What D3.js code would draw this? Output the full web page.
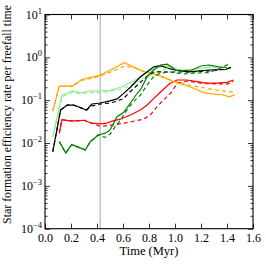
<!DOCTYPE html>
<html><head><meta charset="utf-8">
<script src="https://cdn.jsdelivr.net/npm/d3@7"></script>
<style>body{margin:0;background:#fff}svg{display:block}</style>
</head><body>
<script>
// ---- data ----
const xTicks = [0, 0.2, 0.4, 0.6, 0.8, 1.0, 1.2, 1.4, 1.6];
const xTickLabels = ["0.0","0.2","0.4","0.6","0.8","1.0","1.2","1.4","1.6"];
const yTicks = [1e-4, 1e-3, 1e-2, 1e-1, 1e0, 1e1];
const yTickExps = ["\u22124","\u22123","\u22122","\u22121","0","1"];
const markerTime = 0.425;

const orangeT      = [0.06,0.11,0.21,0.28,0.35,0.42,0.50,0.61,0.68,0.76,0.84,0.91,0.99,1.07,1.14,1.22,1.30,1.37,1.42,1.46];
const orangeSolid  = [0.056,0.214,0.214,0.30,0.34,0.38,0.50,0.75,0.60,0.46,0.41,0.35,0.27,0.226,0.192,0.15,0.139,0.132,0.12,0.135];
const orangeDashed = [0.056,0.214,0.21,0.29,0.32,0.36,0.45,0.62,0.58,0.47,0.40,0.34,0.28,0.24,0.215,0.195,0.175,0.165,0.158,0.152];

const lgT       = [0.06,0.13,0.21,0.28,0.35,0.42,0.50,0.58,0.66,0.73,0.79,0.86,0.92,0.97,1.02,1.09,1.20,1.28,1.33];
const lgSolid   = [0.014,0.13,0.165,0.15,0.165,0.165,0.17,0.20,0.26,0.34,0.45,0.57,0.63,0.62,0.52,0.50,0.55,0.60,0.58];
const lgDT      = [0.06,0.13,0.21,0.28,0.35,0.42,0.50,0.58,0.66,0.73,0.79,0.86,0.92,0.99,1.07,1.15,1.22,1.30,1.37];
const lgDashed  = [0.014,0.12,0.15,0.14,0.15,0.15,0.16,0.18,0.22,0.28,0.36,0.45,0.52,0.53,0.48,0.46,0.48,0.52,0.58];

const blackT      = [0.06,0.12,0.17,0.22,0.32,0.36,0.425,0.50,0.555,0.605,0.657,0.734,0.786,0.837,0.889,0.935,1.005,1.105,1.26,1.39,1.43];
const blackSolid  = [0.0063,0.059,0.077,0.077,0.059,0.0815,0.086,0.096,0.107,0.144,0.20,0.353,0.46,0.60,0.64,0.57,0.50,0.46,0.506,0.52,0.58];
const blackDashed = [0.0063,0.059,0.077,0.077,0.059,0.073,0.0815,0.086,0.095,0.11,0.16,0.26,0.36,0.455,0.46,0.455,0.455,0.455,0.48,0.53,0.58];

const redT       = [0.11,0.13,0.19,0.24,0.30,0.36,0.425,0.475,0.51,0.58,0.657,0.734,0.786,0.837,0.889,0.96,1.015,1.09,1.17,1.24,1.32,1.40,1.45];
const redSolid   = [0.017,0.035,0.033,0.033,0.034,0.029,0.028,0.029,0.032,0.036,0.045,0.059,0.077,0.11,0.155,0.245,0.296,0.296,0.27,0.25,0.25,0.26,0.296];
const redDT      = [0.11,0.13,0.19,0.24,0.30,0.36,0.425,0.525,0.63,0.757,0.81,0.863,0.91,0.966,1.018,1.09,1.20,1.31,1.41,1.45];
const redDashed  = [0.017,0.035,0.033,0.033,0.034,0.029,0.0245,0.0264,0.030,0.036,0.045,0.071,0.10,0.145,0.25,0.28,0.25,0.24,0.24,0.28];

const greenT      = [0.11,0.16,0.205,0.31,0.348,0.41,0.464,0.50,0.554,0.605,0.657,0.709,0.734,0.786,0.835,0.889,0.94,1.005,1.056,1.13,1.20,1.26,1.34,1.40];
const greenSolid  = [0.0108,0.0058,0.0092,0.0069,0.0107,0.0154,0.017,0.020,0.041,0.052,0.086,0.145,0.173,0.353,0.506,0.663,0.69,0.506,0.49,0.506,0.628,0.663,0.60,0.58];
const greenDT     = [0.11,0.16,0.205,0.31,0.348,0.41,0.46,0.50,0.54,0.58,0.63,0.68,0.734,0.786,0.835,0.889,0.95,1.005,1.08,1.16,1.26,1.34,1.43];
const greenDashed = [0.0108,0.0058,0.0092,0.0069,0.0107,0.0154,0.0135,0.016,0.024,0.034,0.059,0.092,0.132,0.226,0.353,0.425,0.46,0.43,0.41,0.43,0.44,0.55,0.73];

const series = [
  {t: lgT,     v: lgSolid,      color: "#90EE90", dash: null},
  {t: lgDT,    v: lgDashed,     color: "#90EE90", dash: "4,3"},
  {t: redT,    v: redSolid,     color: "#FF0000", dash: null},
  {t: redDT,   v: redDashed,    color: "#FF0000", dash: "4,3"},
  {t: orangeT, v: orangeSolid,  color: "#FFA500", dash: null},
  {t: orangeT, v: orangeDashed, color: "#FFA500", dash: "4,3"},
  {t: blackT,  v: blackSolid,   color: "#000000", dash: null},
  {t: blackT,  v: blackDashed,  color: "#000000", dash: "4,3"},
  {t: greenT,  v: greenSolid,   color: "#008000", dash: null},
  {t: greenDT, v: greenDashed,  color: "#008000", dash: "4,3"}
];

// ---- layout ----
const W = 266, H = 264;
const L = 45, R = 253, T = 14.5, B = 228.7;
const FONT = "'Liberation Serif', 'DejaVu Serif', serif";

const svg = d3.select("body").append("svg").attr("width", W).attr("height", H);
const x = d3.scaleLinear().domain([0, 1.6]).range([L, R]);
const y = d3.scaleLog().domain([1e-4, 10]).range([B, T]);

// marker line
svg.append("line").attr("x1", x(markerTime)).attr("x2", x(markerTime))
  .attr("y1", T).attr("y2", B).attr("stroke", "#c4c4c4").attr("stroke-width", 1.5);

// lines
const line = d3.line().x(d => x(d[0])).y(d => y(d[1]));
series.forEach(s => {
  const pts = s.t.map((t, i) => [t, s.v[i]]);
  svg.append("path").attr("d", line(pts)).attr("fill", "none")
    .attr("stroke", s.color).attr("stroke-width", 1.2)
    .attr("stroke-dasharray", s.dash);
});

// minor ticks
const minor = [];
for (let e = -4; e < 1; e++) for (let m = 2; m <= 9; m++) minor.push(m * Math.pow(10, e));

function styleAxis(g) {
  g.select(".domain").remove();
  g.selectAll(".tick line").attr("stroke", "#000").attr("stroke-width", 0.8);
}
svg.append("g").attr("transform", `translate(${L},0)`)
  .call(d3.axisLeft(y).tickValues(yTicks).tickSize(-5).tickFormat("")).call(styleAxis);
svg.append("g").attr("transform", `translate(${L},0)`)
  .call(d3.axisLeft(y).tickValues(minor).tickSize(-2.5).tickFormat("")).call(styleAxis);
svg.append("g").attr("transform", `translate(${R},0)`)
  .call(d3.axisRight(y).tickValues(yTicks).tickSize(-5).tickFormat("")).call(styleAxis);
svg.append("g").attr("transform", `translate(${R},0)`)
  .call(d3.axisRight(y).tickValues(minor).tickSize(-2.5).tickFormat("")).call(styleAxis);
svg.append("g").attr("transform", `translate(0,${T})`)
  .call(d3.axisTop(x).tickValues(xTicks).tickSize(-5).tickFormat("")).call(styleAxis);
const bx = svg.append("g").attr("transform", `translate(0,${B})`)
  .call(d3.axisBottom(x).tickValues(xTicks).tickSize(-5).tickPadding(5)
    .tickFormat((d, i) => xTickLabels[i])).call(styleAxis);
bx.selectAll("text").attr("font-family", FONT).attr("font-size", 12).attr("fill", "#000");

// y tick labels
yTicks.forEach((v, i) => {
  const tx = svg.append("text").attr("x", L - 3).attr("y", y(v) + 4)
    .attr("text-anchor", "end").attr("font-family", FONT).attr("font-size", 12).attr("fill", "#000");
  tx.append("tspan").text("10");
  tx.append("tspan").attr("dy", -5).attr("font-size", 8.5).text(yTickExps[i]);
});

// frame
svg.append("rect").attr("x", L).attr("y", T).attr("width", R - L).attr("height", B - T)
  .attr("fill", "none").attr("stroke", "#000").attr("stroke-width", 1.1);

// axis labels
svg.append("text").attr("x", (L + R) / 2).attr("y", 255).attr("text-anchor", "middle")
  .attr("font-family", FONT).attr("font-size", 12.5).attr("fill", "#000").text("Time (Myr)");
const yl = svg.append("text").attr("transform", `translate(11,${(5 + 224) / 2}) rotate(-90)`)
  .attr("text-anchor", "middle").attr("font-family", FONT).attr("font-size", 12).attr("fill", "#000")
  .text("Star formation efficiency rate per freefall time");
const len = yl.node().getComputedTextLength();
yl.attr("font-size", 12 * 219 / len);
</script>
</body></html>
